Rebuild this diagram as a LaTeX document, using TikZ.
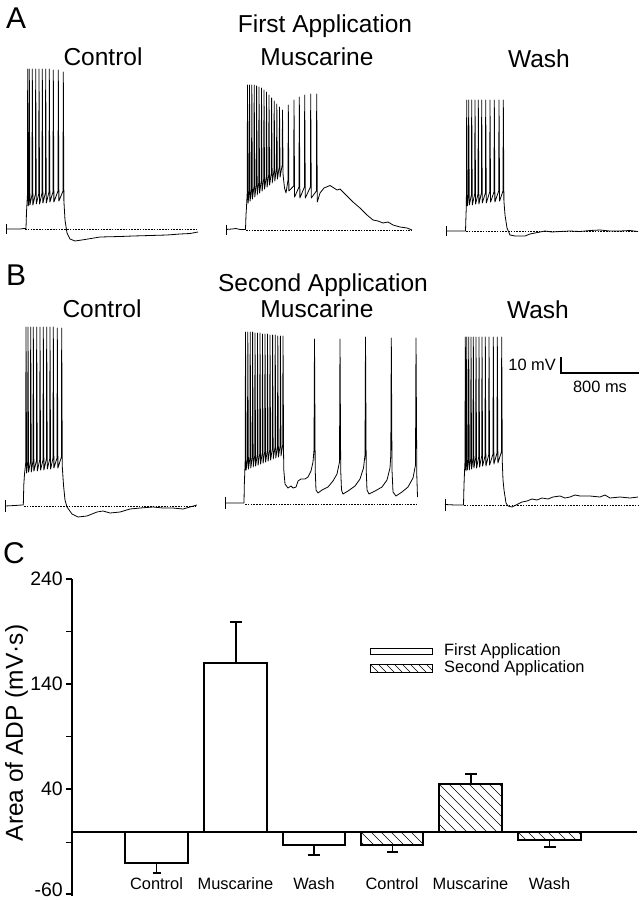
\documentclass[tikz,border=0pt]{standalone}
\usepackage{fontspec}
\setmainfont{Liberation Sans}
\newcommand{\hatchbox}[5]{%
  \begin{scope}
    \clip (#1,#2) rectangle (#3,#4);
    \foreach \k in {0,...,16} \draw[hatchline] ({#1-60+\k*#5},#2) -- ++(75,75);
  \end{scope}
  \draw[barline] (#1,#2) rectangle (#3,#4);}
\begin{document}
\begin{tikzpicture}[x=1pt,y=-1pt,
  trace/.style={line width=0.8pt, line join=round},
  basel/.style={line width=0.6pt, dash pattern=on 1.6pt off 1.2pt},
  ttl/.style={font=\fontsize{24.5}{28}\selectfont, inner sep=0pt, anchor=base},
  panel/.style={font=\fontsize{30}{34}\selectfont, inner sep=0pt, anchor=base west},
  small/.style={font=\fontsize{16.4}{19}\selectfont, inner sep=0pt},
  tickl/.style={font=\fontsize{19.5}{22}\selectfont, inner sep=0pt, anchor=east},
  barline/.style={line width=1.1pt},
  hatchline/.style={line width=0.6pt},
  axisline/.style={line width=1.1pt}]
\useasboundingbox (0,0) rectangle (642,900);
\fill[white] (0,0) rectangle (642,900);

% ---------- Panel A ----------
\node[panel] (lA) at (6,28) {A};
\node[ttl] (tA) at (325,32.5) {First Application};
\node[ttl] (cA) at (103,65) {Control};
\node[ttl] (mA) at (317,65) {Muscarine};
\node[ttl] (wA) at (539,67) {Wash};

% A control
\draw[trace] (6,224) -- (6,234);
\draw[basel] (25,229) -- (198,229);
\draw[trace] (6,229) -- (20,229) -- (24,228.5) -- (26,228.5) -- (26.5,212)
  \foreach \x/\p/\t in {27.7/69/206,29.3/69/205,32.3/69/205,35.7/69/204,39/69/204,42.3/69/203,45.7/69/203,49.3/69/202,53.3/70/202,58.3/70/201,63.3/72/201}{ -- (\x-0.3,\t-10) -- (\x,\p) -- (\x+0.6,\t)}
  -- (65,220) -- (67,233) -- (70,239) -- (75,241) -- (85,239.5) -- (100,237) -- (120,236.5) -- (133,236) -- (150,235.5) -- (167,235) -- (180,234) -- (190,233.5) -- (198,232);

% A muscarine
\draw[trace] (226,224.5) -- (226,234.5);
\draw[basel] (246,230) -- (412,230);
\draw[trace] (226,229.5) -- (232,229) -- (236,228.5) -- (240,229.5) -- (245.5,229.5) -- (246,215) -- (246.5,207)
  \foreach \x/\p/\t in {247.5/85/203,249.5/85/201,251.8/85/199,254.2/85/197,256.6/86/195,259/87/193,261.5/88/191,264/90/189,266.5/92/187,269/95/185,271.6/98/183,274.2/101/181,276.8/104/179,279.5/107/177,282.5/110/175}{ -- (\x-0.3,\t-10) -- (\x,\p) -- (\x+0.6,\t)}
  -- (284.5,188) -- (286,193)
  \foreach \x/\p/\t in {288.3/105/191,294/100/197,299.3/97/198,304.7/95/198,310.7/94/198,316.7/94/202}{ -- (\x-0.3,\t-11) -- (\x,\p) -- (\x+0.6,\t)}
  -- (320,193) -- (324,188) -- (330,185.5) -- (334,188) -- (337,190) -- (340,189) -- (343,192) -- (348,197) -- (353,202) -- (360,208) -- (367,215) -- (373,220) -- (378,221) -- (383,223) -- (388,222) -- (393,225) -- (400,227) -- (407,228) -- (412,230);

% A wash
\draw[trace] (446,226) -- (446,236);
\draw[basel] (466,231) -- (638,231);
\draw[trace] (446,231) -- (460,231) -- (465.5,231) -- (466,215) -- (466.3,207)
  \foreach \x/\p/\t in {466.7/100/206,468.7/100/205,471.7/100/205,475/100/204,478.3/100/204,481.7/100/203,485.7/100/203,490/100/202,494.3/100/202,499/100/201,503.3/100/201}{ -- (\x-0.3,\t-10) -- (\x,\p) -- (\x+0.6,\t)}
  -- (505,215) -- (507,228) -- (510,235) -- (515,236) -- (525,236) -- (530,234) -- (535,233) -- (540,232) -- (545,231) -- (552,232) -- (560,231.5) -- (570,231) -- (580,231.5) -- (590,230.5) -- (600,230) -- (610,231) -- (620,231) -- (630,230.5) -- (638,231.5);

% ---------- Panel B ----------
\node[panel] (lB) at (6,285) {B};
\node[ttl] (tB) at (323,291) {Second Application};
\node[ttl] (cB) at (102,317) {Control};
\node[ttl] (mB) at (317,317) {Muscarine};
\node[ttl] (wB) at (538,318) {Wash};

% B control
\draw[trace] (5,500) -- (5,512);
\draw[basel] (24,506) -- (197,506);
\draw[trace] (5,506) -- (15,505.5) -- (22,505) -- (23.3,505) -- (23.8,485) -- (24.5,474)
  \foreach \x/\p/\t in {26/327/473,28/327/472,30.7/327/472,33.3/327/471,36.7/327/471,40/327/470,43.3/327/470,46.7/327/469,50/327/469,53.3/327/468,57.3/328/468,61.7/328/467}{ -- (\x-0.3,\t-10) -- (\x,\p) -- (\x+0.6,\t)}
  -- (63.5,485) -- (65,500) -- (67,507) -- (72,514) -- (78,517) -- (87,516) -- (97,512) -- (103,511) -- (110,513) -- (120,512) -- (130,509) -- (140,508) -- (153,507) -- (163,508) -- (173,508) -- (183,509) -- (190,507) -- (197,505);

% B muscarine
\draw[trace] (225,497) -- (225,509);
\draw[basel] (245,504) -- (418,504);
\draw[trace] (225,503) -- (235,503) -- (244,503) -- (244.3,485) -- (244.8,472)
  \foreach \x/\p/\t in {245.5/332/470,247.8/332/469,250.2/332/468,252.6/332/467,255/333/466,257.5/333/465,260/333/464,262.5/334/463,265/334/462,267.5/334/461,270/335/460,272.6/335/459,275.2/335/458,277.8/336/457,280.4/336/456,283/336/455}{ -- (\x-0.3,\t-10) -- (\x,\p) -- (\x+0.6,\t)}
  -- (283.8,470) -- (285,484) -- (288,488) -- (291,486) -- (293,488) -- (296,487) -- (298,481) -- (301,479) -- (305,479) -- (308,477) -- (311,471) -- (313,462) -- (314,450) -- (314.5,339) -- (315.2,470) -- (316,490) -- (318,493) -- (322,490) -- (328,487) -- (333,481) -- (337,474) -- (339.5,462) -- (340,339) -- (340.7,470) -- (341.5,490) -- (343,494) -- (348,491) -- (355,486) -- (360,479) -- (363.5,468) -- (365,455) -- (365.5,337) -- (366.2,470) -- (367,490) -- (369,494) -- (375,491) -- (382,487) -- (387,480) -- (390,468) -- (390.8,455) -- (391.3,338) -- (392,470) -- (393,492) -- (396,496) -- (402,492) -- (408,487) -- (413,478) -- (415.5,465) -- (416,338) -- (416.8,475) -- (417.5,497);

% B wash
\draw[trace] (445,499) -- (445,511);
\draw[basel] (464,505) -- (638,505);
\draw[trace] (445,504.5) -- (455,505) -- (463.5,505) -- (464,485) -- (464.5,472)
  \foreach \x/\p/\t in {465.3/337/471,466.7/337/470,468.7/337/470,471/337/469,473.3/337/468,476/337/468,479/337/467,482/337/466,485.3/337/466,489/337/465,493.3/337/464,497.3/337/463,501.7/337/462}{ -- (\x-0.3,\t-10) -- (\x,\p) -- (\x+0.6,\t)}
  -- (503,480) -- (504,490) -- (506,503) -- (508,506) -- (512,507) -- (518,504) -- (522,502) -- (527,501) -- (532,499) -- (537,500) -- (542,498) -- (548,499) -- (553,497) -- (560,496) -- (565,498) -- (570,497) -- (575,495) -- (580,496) -- (590,496) -- (600,497) -- (605,495) -- (610,498) -- (620,497) -- (630,498) -- (638,497);

% scale bar
\coordinate (sbT) at (561,357);
\coordinate (sbC) at (561,373);
\coordinate (sbR) at (639,373);
\draw[line width=2.2pt, line join=miter] (sbT) -- (sbC) -- (sbR);
\node[small, anchor=base east] (mv) at (556,370) {10 mV};
\node[small, anchor=base] (ms) at (600,392) {800 ms};

% ---------- Panel C ----------
\node[panel] (lC) at (3,563) {C};
\coordinate (ax0) at (72,579);
\coordinate (ax1) at (72,896);
\draw[axisline] (ax0) -- (ax1);
\foreach \v/\yy in {240/579,190/631.5,140/684,90/736.5,40/789,-10/842.5,-60/894}
  \draw[axisline] (66,\yy) -- (72,\yy);
\node[tickl] (t240) at (63,579) {240};
\node[tickl] (t140) at (63,684) {140};
\node[tickl] (t40) at (63,789) {40};
\node[tickl] (tm60) at (63,890) {-60};
\node[font=\fontsize{24.5}{28}\selectfont, inner sep=0pt, anchor=base, rotate=90] (ylab) at (23,733) {Area of ADP (mV·s)};

% bars
\draw[barline] (125,832) rectangle (188,863);
\draw[barline] (156.5,863) -- (156.5,873) (152.5,873) -- (160.5,873);
\draw[barline] (204,663) rectangle (267,832);
\draw[barline] (236,663) -- (236,622) (230,622) -- (242,622);
\draw[barline] (283,832) rectangle (345,845);
\draw[barline] (314,845) -- (314,855) (308,855) -- (320,855);
\hatchbox{361}{832}{423}{845}{10}
\draw[barline] (392.5,845) -- (392.5,852) (387,852) -- (398,852);
\hatchbox{439}{784}{502}{832}{10}
\draw[barline] (471,784) -- (471,774) (465,774) -- (477,774);
\hatchbox{518}{832}{581}{840}{10}
\draw[barline] (549.5,840) -- (549.5,847) (543.5,847) -- (555.5,847);
\coordinate (z0) at (72,832);
\coordinate (z1) at (637,832);
\draw[axisline] (z0) -- (z1);

% legend
\draw[line width=0.8pt] (370,648) rectangle (432,654);
\begin{scope}
  \clip (370,664) rectangle (432,672);
  \foreach \k in {0,...,12} \draw[hatchline] ({362+\k*8},664) -- ++(10,10);
\end{scope}
\draw[line width=0.8pt] (370,664) rectangle (432,672);
\node[small, anchor=base west] (lg1) at (444,655) {First Application};
\node[small, anchor=base west] (lg2) at (444,672) {Second Application};

% category labels
\node[small, anchor=base] (k1) at (156.5,889) {Control};
\node[small, anchor=base] (k2) at (235.5,889) {Muscarine};
\node[small, anchor=base] (k3) at (314,889) {Wash};
\node[small, anchor=base] (k4) at (392,889) {Control};
\node[small, anchor=base] (k5) at (470.5,889) {Muscarine};
\node[small, anchor=base] (k6) at (549.5,889) {Wash};
\end{tikzpicture}
\end{document}
